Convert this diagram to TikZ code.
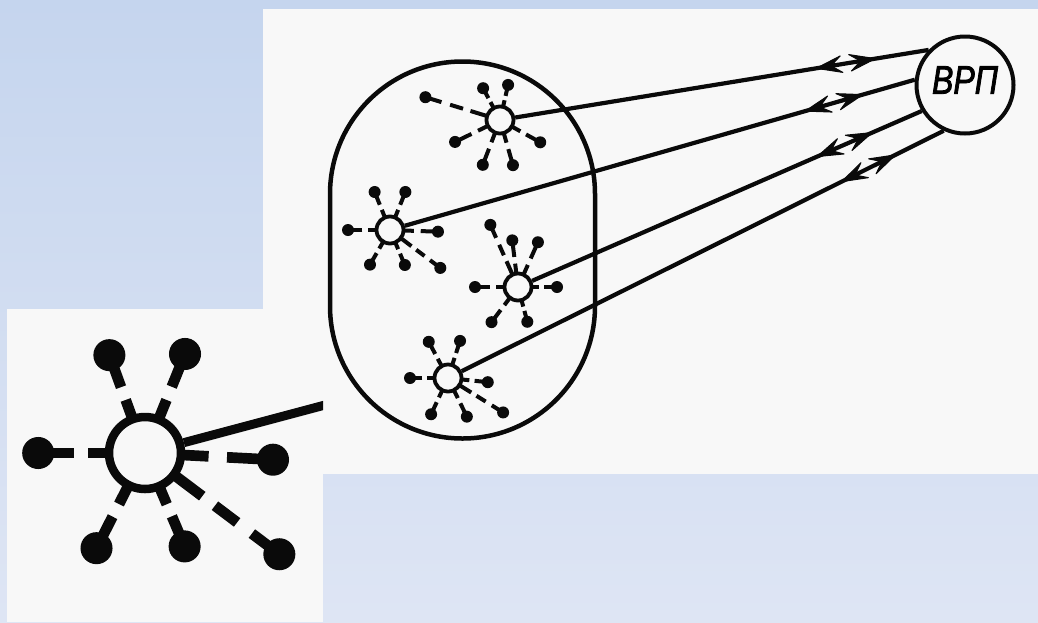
\documentclass[tikz,border=0pt]{standalone}
\usepackage{fontspec}
\usepackage{tikz}
\usetikzlibrary{calc}
\newfontfamily\vrpfont[FakeStretch=0.8,FakeBold=2]{Liberation Sans}
\definecolor{bgtop}{HTML}{C5D5EE}
\definecolor{bgbot}{HTML}{DEE5F4}
\definecolor{paper}{HTML}{F8F8F8}
\definecolor{ink}{HTML}{0A0A0A}

% one ray of a satellite: hub, angle, length, long (1) or short (0), scale
\newcommand{\satray}[5]{%
  \pgfmathsetmacro\rlen{(#3-13.5)*#5}
  \ifnum#4=1
    \pgfmathsetmacro\rstub{0.27*\rlen}\pgfmathsetmacro\rgap{0.12*\rlen}
    \pgfmathsetmacro\rdash{0.21*\rlen}\pgfmathsetmacro\rgapb{0.14*\rlen}
    \draw[ink,line width=4pt*#5,
      dash pattern=on \rstub pt off \rgap pt on \rdash pt off \rgapb pt on 400pt]
      ($(#1)+(#2:13.5*#5)$) -- ($(#1)+(#2:#3*#5)$);
  \else
    \pgfmathsetmacro\rstub{0.3*\rlen}\pgfmathsetmacro\rgap{0.2*\rlen}
    \draw[ink,line width=4pt*#5,
      dash pattern=on \rstub pt off \rgap pt on 400pt]
      ($(#1)+(#2:13.5*#5)$) -- ($(#1)+(#2:#3*#5)$);
  \fi
  \fill[ink] ($(#1)+(#2:#3*#5)$) circle (6*#5);
}

\tikzset{
  sat/.style={circle,draw=ink,line width=3.8pt,minimum size=27pt,inner sep=0pt},
  centre/.style={circle,draw=ink,line width=4pt,minimum size=97pt,inner sep=0pt,
    text depth=10pt,font=\vrpfont\itshape\fontsize{40}{42}\selectfont},
  link/.style={ink,line width=4.2pt},
  barbhead/.style={fill=ink,draw=ink,line width=1pt,line join=round},
}

\begin{document}
\begin{tikzpicture}[x=1pt,y=1pt]
  \useasboundingbox (0,0) rectangle (1038,-622);
  \shade[top color=bgtop,bottom color=bgbot] (0,0) rectangle (1038,-622);
  \fill[paper] (263,-9) rectangle (1038,-474);

  % the cluster
  \draw[ink,line width=4.5pt] (330,-194) arc (180:0:132.5) -- (595,-306)
    arc (0:-180:132.5) -- cycle;

  \node[sat] (s1) at (500,-120) {};
  \node[sat] (s2) at (390,-230) {};
  \node[sat] (s3) at (518,-287) {};
  \node[sat] (s4) at (448,-378) {};
  \foreach \a/\l/\k in {163/78/1,118/36/0,77/36/0,206/50/0,249/48/0,286/47/0,331/46/0}
    {\satray{s1}{\a}{\l}{\k}{1}}
  \foreach \a/\l/\k in {112/41/0,68/41/0,180/42/0,358/48/0,240/40/0,293/38/0,323/63/1}
    {\satray{s2}{\a}{\l}{\k}{1}}
  \foreach \a/\l/\k in {114/68/1,97/47/0,66/49/0,180/43/0,0/39/0,233/44/0,285/36/0}
    {\satray{s3}{\a}{\l}{\k}{1}}
  \foreach \a/\l/\k in {118/41/0,72/39/0,180/38/0,354/40/0,245/40/0,296/43/0,328/65/1}
    {\satray{s4}{\a}{\l}{\k}{1}}

  \node[centre] (vrp) at (965,-85) {ВРП};

  % links, each with a pair of opposite arrowheads near the centre
  \foreach \s/\e in {s1/136,s2/174,s3/211,s4/245}{
    \draw[link] (\s) -- (vrp.\e);
    \coordinate (tf) at ($(vrp.\e)!54pt!(\s)$);
    \coordinate (tb) at ($(vrp.\e)!114pt!(\s)$);
    \filldraw[barbhead] (tf) -- ($(tf)!27pt!18:(\s)$) -- ($(tf)!15pt!(\s)$)
      -- ($(tf)!27pt!-18:(\s)$) -- cycle;
    \filldraw[barbhead] (tb) -- ($(tb)!27pt!18:(vrp.\e)$) -- ($(tb)!15pt!(vrp.\e)$)
      -- ($(tb)!27pt!-18:(vrp.\e)$) -- cycle;
  }

  % enlarged satellite
  \fill[paper] (7,-309) rectangle (323,-622);
  \begin{scope}
    \clip (7,-309) rectangle (323,-622);
    \node[sat,line width=8.5pt,minimum size=72pt] (ins) at (145,-453) {};
    \foreach \a/\l/\k in {110/39/0,68/40/0,180/40/0,357/48/0,243/40/0,293/38/0,323/63/1}
      {\satray{ins}{\a}{\l}{\k}{2.67}}
    \coordinate (insout) at (340,-401);
    \draw[ink,line width=9pt] (ins) -- (insout);
  \end{scope}
\end{tikzpicture}
\end{document}
